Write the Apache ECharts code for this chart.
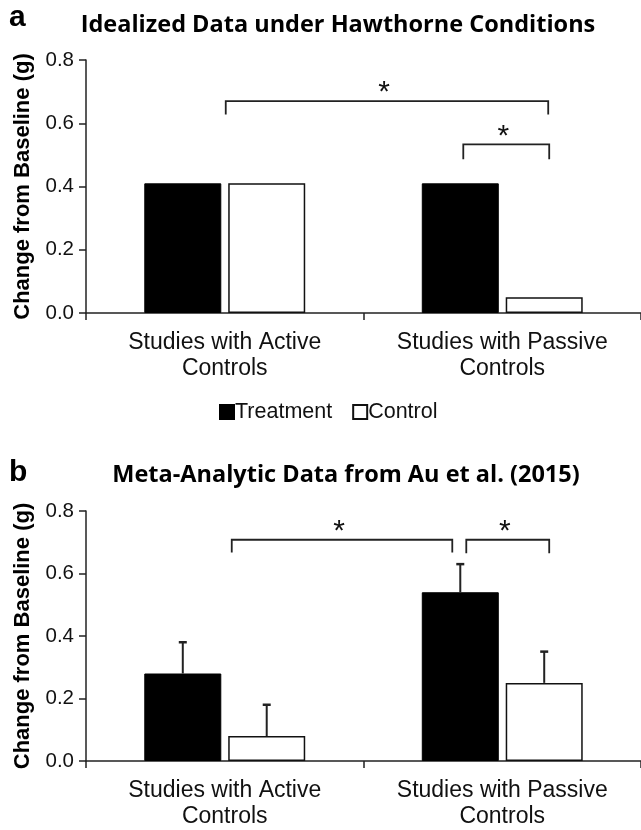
<!DOCTYPE html>
<html><head><meta charset="utf-8">
<script src="https://cdn.jsdelivr.net/npm/echarts@6/dist/echarts.min.js"></script>
<style>html,body{margin:0;padding:0;background:#fff}#c{width:641px;height:830px}</style>
</head><body><div id="c"></div>
<script>
// ---- data ----
const categories = ['Studies with Active\nControls', 'Studies with Passive\nControls'];
const seriesNames = ['Treatment', 'Control'];
const yTicks = [0, 0.2, 0.4, 0.6, 0.8];
const panelLetters = ['a', 'b'];
const panelTitles = ['Idealized Data under Hawthorne Conditions', 'Meta-Analytic Data from Au et al. (2015)'];
const yAxisName = 'Change from Baseline (g)';
const idealTreatment = [0.41, 0.41];
const idealControl = [0.41, 0.05];
const metaTreatment = [0.28, 0.54];
const metaControl = [0.08, 0.25];
const metaTreatmentErr = [0.10, 0.09];
const metaControlErr = [0.10, 0.10];
// significance brackets: [catFrom, slotFrom, catTo, slotTo, yTop, yEnd]  (slot -1 treatment bar, 0 category centre, 1 control bar)
const idealBrackets = [[0, 0, 1, 1, 0.67, 0.628], [1, -1, 1, 1, 0.533, 0.486]];
const metaBrackets = [[0, 0, 1, -1, 0.708, 0.667], [1, -1, 1, 1, 0.708, 0.665]];
const sigLabel = '*';

// ---- styling ----
const FONT = '"Liberation Sans", Arial, sans-serif';
const TITLE_FONT = '"Open Sans", "Liberation Sans", sans-serif';
const INK = '#111';
const BAR_W = 77;
const GAP = 0.09;
const SLOT = BAR_W * (1 + GAP) / 2;
const bracketNudge = [[[1, 4], [3, 5]], [[7, -8], [6, 5]]];

const chart = echarts.init(document.getElementById('c'), null, {renderer: 'canvas'});

function xAxis(gi) {
  return {
    type: 'category', gridIndex: gi, data: categories,
    axisLine: {lineStyle: {color: '#222', width: 1.5}},
    axisTick: {show: true, length: 7, lineStyle: {color: '#222', width: 1.5}},
    axisLabel: {interval: 0, fontSize: 23, lineHeight: 26, margin: 17, color: INK, fontFamily: FONT}
  };
}
function yAxis(gi) {
  return {
    type: 'value', gridIndex: gi, min: yTicks[0], max: yTicks[yTicks.length - 1],
    interval: yTicks[1] - yTicks[0],
    splitLine: {show: false},
    axisLine: {show: true, lineStyle: {color: '#222', width: 1.5}},
    axisTick: {show: true, length: 7, lineStyle: {color: '#222', width: 1.5}},
    axisLabel: {formatter: v => v.toFixed(1), fontSize: 20.5, margin: 12, color: INK, fontFamily: FONT},
    name: yAxisName, nameLocation: 'middle', nameGap: 52,
    nameTextStyle: {fontSize: 22, fontWeight: 'bold', color: '#000', fontFamily: FONT}
  };
}
function barSeries(gi, name, values) {
  const isT = name === seriesNames[0];
  return {
    type: 'bar', name: name, xAxisIndex: gi, yAxisIndex: gi, data: values,
    barWidth: BAR_W, barGap: (GAP * 100) + '%',
    itemStyle: isT ? {color: '#000', borderColor: '#000', borderWidth: 1} : {color: '#fff', borderColor: '#111', borderWidth: 1.5}
  };
}
function errSeries(gi, slot, values, errs) {
  return {
    type: 'custom', xAxisIndex: gi, yAxisIndex: gi, silent: true, z: 5,
    data: values.map((v, i) => [i, v, errs[i]]),
    encode: {x: 0, y: 1},
    renderItem: function (params, api) {
      const c = api.value(0), v = api.value(1), e = api.value(2);
      const p0 = api.coord([c, v]);
      const p1 = api.coord([c, v + e]);
      const x = p0[0] + slot * SLOT;
      return {type: 'group', children: [
        {type: 'line', shape: {x1: x, y1: p0[1], x2: x, y2: p1[1]}, style: {stroke: '#222', lineWidth: 2}},
        {type: 'line', shape: {x1: x - 4, y1: p1[1], x2: x + 4, y2: p1[1]}, style: {stroke: '#222', lineWidth: 2.5}}
      ]};
    }
  };
}
function bracketSeries(gi, data) {
  return {
    type: 'custom', xAxisIndex: gi, yAxisIndex: gi, silent: true, z: 6,
    data: data,
    encode: {x: 0, y: 4},
    renderItem: function (params, api) {
      const d = data[params.dataIndex];
      const n = bracketNudge[gi][params.dataIndex];
      const top = api.coord([d[0], d[4]]);
      const end = api.coord([d[0], d[5]]);
      const x1 = top[0] + d[1] * SLOT + n[0];
      const x2 = api.coord([d[2], d[4]])[0] + d[3] * SLOT + n[1];
      return {type: 'group', children: [
        {type: 'polyline', shape: {points: [[x1, end[1]], [x1, top[1]], [x2, top[1]], [x2, end[1]]]},
          style: {stroke: '#222', lineWidth: 1.8, fill: null}},
        {type: 'text', x: (x1 + x2) / 2 - 3, y: top[1] - 8,
          style: {text: sigLabel, font: '30px "Liberation Sans", Arial', fill: '#111', textAlign: 'center', textVerticalAlign: 'middle'}}
      ]};
    }
  };
}

const option = {
  animation: false,
  backgroundColor: '#fff',
  textStyle: {fontFamily: FONT},
  title: [
    {text: panelLetters[0], left: 9, top: 3, padding: 0, textStyle: {fontSize: 30, fontWeight: 'bold', color: '#000', fontFamily: FONT}},
    {text: panelTitles[0], left: 338, top: 13, textAlign: 'center', padding: 0, textStyle: {fontSize: 23.5, fontWeight: 'bold', color: '#000', fontFamily: TITLE_FONT}},
    {text: panelLetters[1], left: 9, top: 458, padding: 0, textStyle: {fontSize: 30, fontWeight: 'bold', color: '#000', fontFamily: FONT}},
    {text: panelTitles[1], left: 346, top: 463, textAlign: 'center', padding: 0, textStyle: {fontSize: 23.5, fontWeight: 'bold', color: '#000', fontFamily: TITLE_FONT}}
  ],
  legend: {
    data: seriesNames, left: 219, top: 401, icon: 'rect', itemWidth: 14, itemHeight: 14, itemGap: 20,
    padding: 0, selectedMode: false,
    textStyle: {fontSize: 21.5, color: INK, fontFamily: FONT, padding: [0, 0, 0, -4]}
  },
  grid: [
    {left: 86, top: 60, width: 555, height: 253},
    {left: 86, top: 511, width: 555, height: 252}
  ],
  xAxis: [xAxis(0), xAxis(1)],
  yAxis: [yAxis(0), yAxis(1)],
  series: [
    barSeries(0, seriesNames[0], idealTreatment),
    barSeries(0, seriesNames[1], idealControl),
    barSeries(1, seriesNames[0], metaTreatment),
    barSeries(1, seriesNames[1], metaControl),
    errSeries(1, -1, metaTreatment, metaTreatmentErr),
    errSeries(1, 1, metaControl, metaControlErr),
    bracketSeries(0, idealBrackets),
    bracketSeries(1, metaBrackets)
  ]
};
chart.setOption(option);
</script>
</body></html>
